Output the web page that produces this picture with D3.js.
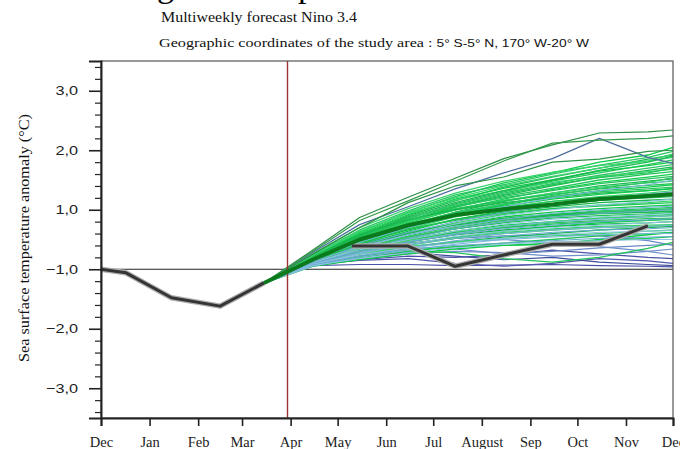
<!DOCTYPE html>
<html>
<head>
<meta charset="utf-8">
<script src="https://cdn.jsdelivr.net/npm/d3@7/dist/d3.min.js"></script>
<style>
  body { margin: 0; background: #fff; }
  svg { display: block; }
</style>
</head>
<body>
<svg width="680" height="449"></svg>
<script>
// x tick labels (one per month start)
const monthLabels = ["Dec", "Jan", "Feb", "Mar", "Apr", "May", "Jun", "Jul", "August", "Sep", "Oct", "Nov", "Dec"]
const monthStarts = ["2018-12-01", "2019-01-01", "2019-02-01", "2019-03-01", "2019-04-01", "2019-05-01",
  "2019-06-01", "2019-07-01", "2019-08-01", "2019-09-01", "2019-10-01", "2019-11-01", "2019-12-01"]

// y ticks: plotted position and the label printed next to it
const yTickVals = [3, 2, 1, 0, -1, -2]
const yTickLabels = ["3,0", "2,0", "1,0", "\u22121,0", "\u22122,0", "\u22123,0"]

// observed anomaly (null = not drawn)
const obsDates = ["2018-12-01", "2018-12-17", "2019-01-15", "2019-02-15", "2019-03-15", "2019-04-15",
  "2019-05-10", "2019-06-15", "2019-07-15", "2019-08-15", "2019-09-15", "2019-10-15", "2019-11-15"]
const obsValues = [0.0, -0.06, -0.48, -0.62, -0.23, null, 0.39, 0.39, 0.05, 0.24, 0.42, 0.42, 0.73]

const forecastStart = "2019-03-30"

// forecast dates; every member starts from the last observed value (Mar 15)
const fcDates = ["2019-03-15", "2019-04-15", "2019-05-15", "2019-06-15", "2019-07-15", "2019-08-15",
  "2019-09-15", "2019-10-15", "2019-11-15", "2019-12-01"]

const meanValues = [0.16, 0.50, 0.74, 0.91, 1.01, 1.09, 1.18, 1.23, 1.26]

const topMembers = [
  [0.32, 0.87, 1.21, 1.53, 1.86, 2.09, 2.29, 2.31, 2.34],
  [0.30, 0.82, 1.15, 1.48, 1.82, 2.12, 2.17, 2.20, 2.24],
  [0.25, 0.70, 1.12, 1.40, 1.55, 1.80, 1.85, 1.98, 2.00]
]
const steelMembers = [
  [0.28, 0.75, 1.05, 1.35, 1.62, 1.86, 2.20, 1.88, 1.78]
]
const greenMembers = [
  [0.22, 0.62, 0.95, 1.22, 1.45, 1.62, 1.80, 1.92, 2.05],
  [0.24, 0.66, 0.98, 1.25, 1.42, 1.60, 1.75, 1.88, 1.98],
  [0.20, 0.58, 0.90, 1.15, 1.38, 1.55, 1.70, 1.85, 1.92],
  [0.26, 0.70, 1.02, 1.28, 1.48, 1.63, 1.74, 1.82, 1.88],
  [0.18, 0.55, 0.85, 1.10, 1.30, 1.48, 1.62, 1.76, 1.84],
  [0.22, 0.60, 0.92, 1.18, 1.36, 1.50, 1.65, 1.74, 1.80],
  [0.20, 0.56, 0.86, 1.08, 1.28, 1.44, 1.58, 1.70, 1.76],
  [0.16, 0.50, 0.80, 1.05, 1.24, 1.40, 1.55, 1.66, 1.72],
  [0.24, 0.64, 0.94, 1.16, 1.32, 1.46, 1.56, 1.64, 1.68],
  [0.19, 0.54, 0.82, 1.04, 1.22, 1.36, 1.50, 1.60, 1.64],
  [0.17, 0.50, 0.78, 1.00, 1.18, 1.34, 1.46, 1.55, 1.60],
  [0.21, 0.58, 0.86, 1.06, 1.20, 1.32, 1.44, 1.52, 1.56],
  [0.15, 0.47, 0.74, 0.96, 1.14, 1.28, 1.40, 1.48, 1.52],
  [0.18, 0.52, 0.80, 1.00, 1.16, 1.28, 1.38, 1.45, 1.48],
  [0.20, 0.55, 0.82, 1.02, 1.15, 1.26, 1.35, 1.41, 1.44],
  [0.14, 0.45, 0.72, 0.92, 1.08, 1.22, 1.32, 1.38, 1.42],
  [0.17, 0.50, 0.76, 0.95, 1.10, 1.22, 1.30, 1.35, 1.38],
  [0.22, 0.58, 0.84, 1.00, 1.12, 1.20, 1.28, 1.32, 1.35],
  [0.13, 0.42, 0.68, 0.88, 1.02, 1.14, 1.22, 1.28, 1.32],
  [0.16, 0.48, 0.72, 0.90, 1.04, 1.14, 1.20, 1.25, 1.28],
  [0.12, 0.40, 0.64, 0.84, 0.98, 1.08, 1.16, 1.22, 1.25],
  [0.18, 0.50, 0.74, 0.90, 1.02, 1.10, 1.16, 1.20, 1.22],
  [0.14, 0.44, 0.66, 0.84, 0.96, 1.05, 1.12, 1.16, 1.18],
  [0.11, 0.38, 0.60, 0.78, 0.92, 1.02, 1.08, 1.12, 1.15],
  [0.16, 0.46, 0.68, 0.82, 0.94, 1.02, 1.06, 1.10, 1.12],
  [0.12, 0.38, 0.60, 0.76, 0.88, 0.96, 1.02, 1.06, 1.08],
  [0.10, 0.35, 0.56, 0.72, 0.84, 0.92, 0.98, 1.02, 1.04],
  [0.14, 0.42, 0.62, 0.76, 0.86, 0.92, 0.96, 0.99, 1.00],
  [0.09, 0.32, 0.52, 0.68, 0.80, 0.88, 0.93, 0.96, 0.98],
  [0.12, 0.36, 0.54, 0.68, 0.78, 0.86, 0.90, 0.93, 0.95],
  [0.10, 0.32, 0.50, 0.64, 0.74, 0.80, 0.86, 0.88, 0.90],
  [0.08, 0.28, 0.46, 0.60, 0.70, 0.78, 0.82, 0.85, 0.86],
  [0.11, 0.30, 0.46, 0.58, 0.66, 0.72, 0.76, 0.78, 0.80],
  [0.07, 0.25, 0.40, 0.52, 0.62, 0.68, 0.72, 0.74, 0.75],
  [0.08, 0.22, 0.30, 0.28, 0.18, 0.12, 0.20, 0.35, 0.45],
  [0.06, 0.20, 0.32, 0.38, 0.40, 0.42, 0.50, 0.58, 0.62],
  [0.10, 0.34, 0.54, 0.70, 0.82, 0.90, 0.96, 1.00, 1.02],
  [0.13, 0.40, 0.60, 0.74, 0.84, 0.90, 0.94, 0.96, 0.97],
  [0.09, 0.30, 0.48, 0.62, 0.72, 0.80, 0.86, 0.90, 0.92],
  [0.12, 0.34, 0.50, 0.62, 0.70, 0.76, 0.80, 0.82, 0.84],
  [0.08, 0.26, 0.42, 0.54, 0.64, 0.72, 0.78, 0.82, 0.85],
  [0.10, 0.28, 0.42, 0.52, 0.60, 0.66, 0.70, 0.72, 0.74],
  [0.06, 0.22, 0.36, 0.46, 0.54, 0.60, 0.66, 0.70, 0.72],
  [0.09, 0.26, 0.38, 0.46, 0.52, 0.56, 0.60, 0.64, 0.66],
  [0.07, 0.20, 0.30, 0.38, 0.44, 0.50, 0.56, 0.60, 0.62],
  [0.05, 0.16, 0.26, 0.34, 0.40, 0.44, 0.48, 0.52, 0.55],
  [0.15, 0.48, 0.74, 0.94, 1.10, 1.24, 1.36, 1.46, 1.54],
  [0.19, 0.56, 0.88, 1.12, 1.32, 1.50, 1.66, 1.80, 1.90],
  [0.23, 0.63, 0.96, 1.20, 1.40, 1.56, 1.70, 1.82, 1.94],
  [0.17, 0.52, 0.82, 1.06, 1.26, 1.42, 1.54, 1.62, 1.70],
  [0.13, 0.44, 0.70, 0.90, 1.06, 1.18, 1.26, 1.32, 1.36]
]
const lightBlueMembers = [
  [0.15, 0.45, 0.70, 0.90, 1.05, 1.20, 1.32, 1.42, 1.50],
  [0.12, 0.40, 0.62, 0.80, 0.95, 1.08, 1.18, 1.26, 1.30],
  [0.10, 0.36, 0.58, 0.76, 0.90, 1.00, 1.08, 1.14, 1.18],
  [0.13, 0.38, 0.58, 0.72, 0.84, 0.94, 1.00, 1.04, 1.06],
  [0.09, 0.32, 0.52, 0.68, 0.80, 0.88, 0.94, 0.98, 1.00],
  [0.11, 0.33, 0.50, 0.64, 0.76, 0.84, 0.88, 0.92, 0.94],
  [0.08, 0.28, 0.46, 0.60, 0.72, 0.80, 0.84, 0.88, 0.90],
  [0.10, 0.30, 0.46, 0.58, 0.68, 0.74, 0.80, 0.83, 0.85],
  [0.07, 0.26, 0.42, 0.55, 0.64, 0.70, 0.74, 0.78, 0.80],
  [0.09, 0.27, 0.41, 0.52, 0.60, 0.66, 0.70, 0.72, 0.74],
  [0.06, 0.22, 0.36, 0.48, 0.56, 0.62, 0.66, 0.68, 0.70],
  [0.08, 0.24, 0.36, 0.44, 0.52, 0.58, 0.62, 0.64, 0.65],
  [0.05, 0.20, 0.32, 0.42, 0.50, 0.54, 0.58, 0.60, 0.60],
  [0.07, 0.22, 0.34, 0.40, 0.44, 0.48, 0.52, 0.54, 0.55],
  [0.06, 0.18, 0.28, 0.36, 0.42, 0.46, 0.48, 0.50, 0.50]
]
const midBlueMembers = [
  [0.07, 0.18, 0.26, 0.30, 0.28, 0.22, 0.24, 0.30, 0.34],
  [0.12, 0.28, 0.36, 0.34, 0.26, 0.30, 0.36, 0.40, 0.42],
  [0.09, 0.25, 0.38, 0.46, 0.50, 0.44, 0.38, 0.30, 0.24],
  [0.10, 0.30, 0.44, 0.52, 0.56, 0.58, 0.56, 0.48, 0.40]
]
const darkBlueMembers = [
  [0.06, 0.08, 0.08, 0.06, 0.07, 0.08, 0.06, 0.05, 0.04],
  [0.08, 0.15, 0.18, 0.10, 0.05, 0.10, 0.18, 0.14, 0.10],
  [0.10, 0.22, 0.28, 0.22, 0.16, 0.20, 0.12, 0.08, 0.06],
  [0.06, 0.16, 0.22, 0.20, 0.24, 0.32, 0.26, 0.20, 0.18]
]

const parse = d3.timeParse("%Y-%m-%d")

const plotLeft = 101, plotRight = 673, plotTop = 61, plotBottom = 418

const x = d3.scaleTime()
  .domain([parse(monthStarts[0]), parse(monthStarts[monthStarts.length - 1])])
  .range([plotLeft, plotRight])

const y = d3.scaleLinear()
  .domain([-2.5, 3.5])
  .range([plotBottom, plotTop])

const svg = d3.select("svg")

// titles (the line above is cut off in the source image, only descenders show)
svg.append("text")
  .attr("x", 157).attr("y", -3)
  .attr("font-family", "Liberation Serif, Times New Roman, serif")
  .attr("font-size", 34)
  .text("g")
svg.append("text")
  .attr("x", 298).attr("y", -3)
  .attr("font-family", "Liberation Serif, Times New Roman, serif")
  .attr("font-size", 34)
  .text("p")

svg.append("text")
  .attr("x", 161).attr("y", 22)
  .attr("font-family", "Liberation Serif, Times New Roman, serif")
  .attr("font-size", 14)
  .attr("fill", "#111")
  .attr("textLength", 196)
  .attr("lengthAdjust", "spacingAndGlyphs")
  .text("Multiweekly forecast Nino 3.4")

const sub = svg.append("text")
  .attr("x", 159).attr("y", 47)
  .attr("fill", "#111")
  .attr("textLength", 430)
  .attr("lengthAdjust", "spacingAndGlyphs")
sub.append("tspan")
  .attr("font-family", "Liberation Serif, Times New Roman, serif")
  .attr("font-size", 13.5)
  .text("Geographic coordinates of the study area : ")
sub.append("tspan")
  .attr("font-family", "Liberation Sans, Arial, sans-serif")
  .attr("font-size", 11.5)
  .text("5\u00b0 S-5\u00b0 N, 170\u00b0 W-20\u00b0 W")

// y axis title
svg.append("text")
  .attr("transform", "translate(29,238) rotate(-90)")
  .attr("text-anchor", "middle")
  .attr("font-family", "Liberation Serif, Times New Roman, serif")
  .attr("font-size", 14.5)
  .attr("fill", "#111")
  .attr("textLength", 248)
  .attr("lengthAdjust", "spacingAndGlyphs")
  .text("Sea surface temperature anomaly (\u00b0C)")

// ensemble members
const line = d3.line()
  .defined(d => d.v != null)
  .x(d => x(d.date))
  .y(d => y(d.v))

const startValue = obsValues[4]
function member(vals) {
  return [startValue].concat(vals).map((v, i) => ({ date: parse(fcDates[i]), v: v }))
}

function drawGroup(arr, colors, width) {
  svg.append("g")
    .selectAll("path")
    .data(arr)
    .enter().append("path")
      .attr("fill", "none")
      .attr("stroke", (d, i) => colors[i % colors.length])
      .attr("stroke-width", width)
      .attr("stroke-linejoin", "round")
      .attr("d", d => line(member(d)))
}

// zero line (labelled -1,0)
svg.append("line")
  .attr("x1", plotLeft).attr("x2", plotRight)
  .attr("y1", y(0)).attr("y2", y(0))
  .attr("stroke", "#222").attr("stroke-width", 1.2)

drawGroup(darkBlueMembers, ["#4a52a8", "#5259ae", "#3f4b9a"], 1.2)
drawGroup(midBlueMembers, ["#7090cc", "#6a8ac6"], 1.2)
drawGroup(greenMembers, ["#10cc4a", "#2cc464", "#19b84f", "#3ad46e", "#22c458"], 1.3)
drawGroup(lightBlueMembers, ["#7ab4dc", "#68a8d0", "#8ec4e4"], 1)
drawGroup(steelMembers, ["#4d6e9e"], 1.2)
drawGroup(topMembers, ["#2c8c44", "#339a4c", "#2d9448"], 1.2)

// forecast start
svg.append("line")
  .attr("x1", x(parse(forecastStart))).attr("x2", x(parse(forecastStart)))
  .attr("y1", plotTop).attr("y2", plotBottom)
  .attr("stroke", "#9e3434").attr("stroke-width", 1.4)

// observed
const obs = obsValues.map((v, i) => ({ date: parse(obsDates[i]), v: v }))
svg.append("path")
  .attr("fill", "none")
  .attr("stroke", "#b0b0b0").attr("stroke-width", 5.5)
  .attr("stroke-linejoin", "round")
  .attr("d", line(obs))
svg.append("path")
  .attr("fill", "none")
  .attr("stroke", "#353535").attr("stroke-width", 3)
  .attr("stroke-linejoin", "round")
  .attr("d", line(obs))

// ensemble mean
svg.append("path")
  .attr("fill", "none")
  .attr("stroke", "#0b7a1d").attr("stroke-width", 4)
  .attr("stroke-linejoin", "round")
  .attr("d", line(member(meanValues)))

// frame
svg.append("rect")
  .attr("x", plotLeft).attr("y", plotTop)
  .attr("width", plotRight - plotLeft).attr("height", plotBottom - plotTop)
  .attr("fill", "none").attr("stroke", "#555").attr("stroke-width", 1.2)

// y axis: major + minor ticks
const minorTicks = d3.range(-2.4, 3.5, 0.2).filter(v => Math.abs(v - Math.round(v)) > 0.01)
svg.append("g")
  .attr("transform", `translate(${plotLeft},0)`)
  .call(d3.axisLeft(y).tickValues(minorTicks).tickSize(6).tickFormat(""))
  .call(g => g.select(".domain").remove())
  .call(g => g.selectAll("line").attr("stroke", "#222").attr("stroke-width", 1.2))

const labelStretch = 1.25
svg.append("g")
  .attr("transform", `translate(${plotLeft},0)`)
  .call(d3.axisLeft(y).tickValues(yTickVals).tickSize(12).tickPadding(11)
    .tickFormat((d, i) => yTickLabels[i]))
  .call(g => g.select(".domain").attr("stroke", "#222").attr("stroke-width", 2))
  .call(g => g.selectAll("line").attr("stroke", "#222").attr("stroke-width", 1.6))
  .call(g => g.selectAll("text")
    .attr("font-family", "Liberation Sans, Arial, sans-serif")
    .attr("font-size", 13).attr("fill", "#222")
    .attr("x", -23 / labelStretch)
    .attr("transform", `scale(${labelStretch},1)`))

// x axis
svg.append("g")
  .attr("transform", `translate(0,${plotBottom})`)
  .call(d3.axisBottom(x).tickValues(monthStarts.map(parse)).tickSize(8).tickPadding(11)
    .tickFormat((d, i) => monthLabels[i]))
  .call(g => g.select(".domain").attr("stroke", "#222").attr("stroke-width", 2))
  .call(g => g.selectAll("line").attr("stroke", "#222").attr("stroke-width", 1.6))
  .call(g => g.selectAll("text")
    .attr("font-family", "Liberation Serif, Times New Roman, serif")
    .attr("font-size", 14.5).attr("fill", "#222"))
</script>
</body>
</html>
